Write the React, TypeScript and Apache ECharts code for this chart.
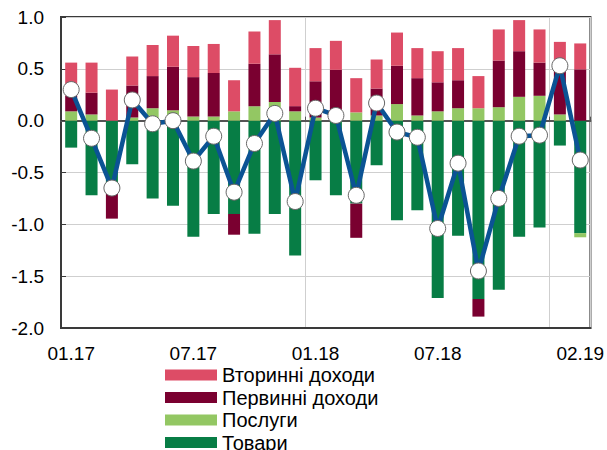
import React, { useEffect, useRef } from "react";
import * as echarts from "echarts";

const categories = [
  "01.17", "02.17", "03.17", "04.17", "05.17", "06.17", "07.17", "08.17", "09.17", "10.17", "11.17", "12.17",
  "01.18", "02.18", "03.18", "04.18", "05.18", "06.18", "07.18", "08.18", "09.18", "10.18", "11.18", "12.18",
  "01.19", "02.19",
];
const shownLabels = [0, 6, 12, 18, 25];
const yearBreaks = [12, 24];

const secondaryIncome = [0.32, 0.29, 0.3, 0.28, 0.3, 0.3, 0.3, 0.28, 0.3, 0.31, 0.33, 0.37, 0.32, 0.28, 0.33, 0.28, 0.32, 0.29, 0.3, 0.31, 0.31, 0.3, 0.3, 0.32, 0.25, 0.25];
const primaryIncome = [0.15, 0.21, -0.245, 0.31, 0.31, 0.42, 0.38, 0.42, -0.2, 0.41, 0.46, 0.05, 0.35, 0.46, -0.33, 0.26, 0.37, 0.36, 0.28, 0.27, -0.17, 0.45, 0.44, 0.32, 0.45, 0.495];
const services = [0.09, 0.06, 0.0, 0.03, 0.12, 0.1, 0.04, 0.04, 0.09, 0.14, 0.18, 0.09, 0.03, 0.03, 0.08, 0.05, 0.16, 0.05, 0.09, 0.12, 0.12, 0.13, 0.23, 0.24, 0.06, -0.04];
const goods = [-0.26, -0.72, -0.7, -0.42, -0.75, -0.82, -1.12, -0.9, -0.9, -1.09, -0.9, -1.3, -0.575, -0.72, -0.8, -0.43, -0.96, -0.865, -1.71, -1.11, -1.72, -1.63, -1.12, -1.03, -0.24, -1.085];
const balance = [0.3, -0.17, -0.65, 0.2, -0.03, 0.0, -0.39, -0.15, -0.69, -0.22, 0.07, -0.78, 0.12, 0.05, -0.72, 0.17, -0.11, -0.16, -1.04, -0.41, -1.45, -0.75, -0.15, -0.14, 0.53, -0.38];

const FONT = "Liberation Sans";

export default function App() {
  const ref = useRef<HTMLDivElement>(null);
  useEffect(() => {
    if (!ref.current) return;
    const chart = echarts.init(ref.current, null, { renderer: "svg" });
    const barCommon = { type: "bar", stack: "total", barWidth: 12, xAxisIndex: 0, yAxisIndex: 0 };
    chart.setOption({
      animation: false,
      textStyle: { fontFamily: FONT },
      grid: {
        left: 61, right: 16, top: 17, bottom: 122,
        show: true, borderColor: "#3a3a3a", borderWidth: 2, backgroundColor: "transparent",
      },
      legend: {
        orient: "vertical",
        left: 160,
        top: 360,
        height: 140,
        padding: 5,
        itemWidth: 52,
        itemHeight: 11,
        itemGap: 2.5,
        icon: "rect",
        data: ["Вторинні доходи", "Первинні доходи", "Послуги", "Товари"],
        textStyle: { fontFamily: FONT, fontSize: 20, color: "#000", lineHeight: 18, padding: [0, 0, 0, 0] },
      },
      xAxis: [
        {
          type: "category",
          data: categories,
          position: "bottom",
          axisLine: { onZero: false, lineStyle: { color: "#3a3a3a", width: 2 } },
          axisTick: { show: false },
          axisLabel: {
            interval: (i: number) => shownLabels.includes(i),
            fontSize: 19,
            color: "#000",
            fontFamily: FONT,
            margin: 16,
          },
          splitLine: {
            show: true,
            interval: (i: number) => yearBreaks.includes(i),
            lineStyle: { color: "#cfcfcf", width: 1 },
          },
        },
        {
          type: "category",
          data: categories,
          position: "bottom",
          axisLine: { onZero: true, lineStyle: { color: "#555", width: 2 } },
          axisTick: {
            show: true,
            inside: true,
            length: 4,
            interval: (i: number) => yearBreaks.includes(i),
            lineStyle: { color: "#555", width: 1 },
          },
          axisLabel: { show: false },
          splitLine: { show: false },
        },
      ],
      yAxis: {
        type: "value",
        min: -2,
        max: 1,
        interval: 0.5,
        axisLine: { show: true, lineStyle: { color: "#3a3a3a", width: 2 } },
        axisTick: { show: true, inside: true, length: 5, lineStyle: { color: "#3a3a3a" } },
        axisLabel: {
          formatter: (v: number) => v.toFixed(1),
          fontSize: 19,
          color: "#000",
          fontFamily: FONT,
          margin: 17,
        },
        splitLine: { show: true, lineStyle: { color: "#cfcfcf", width: 1 } },
      },
      series: [
        { ...barCommon, name: "Товари", data: goods, itemStyle: { color: "#077d45" } },
        { ...barCommon, name: "Послуги", data: services, itemStyle: { color: "#93c763" } },
        { ...barCommon, name: "Первинні доходи", data: primaryIncome, itemStyle: { color: "#7a0030" } },
        { ...barCommon, name: "Вторинні доходи", data: secondaryIncome, itemStyle: { color: "#dd4c66" } },
        {
          type: "line",
          name: "Сальдо",
          data: balance,
          z: 10,
          symbol: "circle",
          symbolSize: 16,
          showSymbol: true,
          showAllSymbol: true,
          lineStyle: { color: "#0b5394", width: 4.5 },
          itemStyle: { color: "#ffffff", borderColor: "#666", borderWidth: 1 },
        },
      ],
    });
    return () => chart.dispose();
  }, []);
  return <div ref={ref} style={{ width: 607, height: 450, position: "absolute", left: 0, top: 0 }} />;
}
